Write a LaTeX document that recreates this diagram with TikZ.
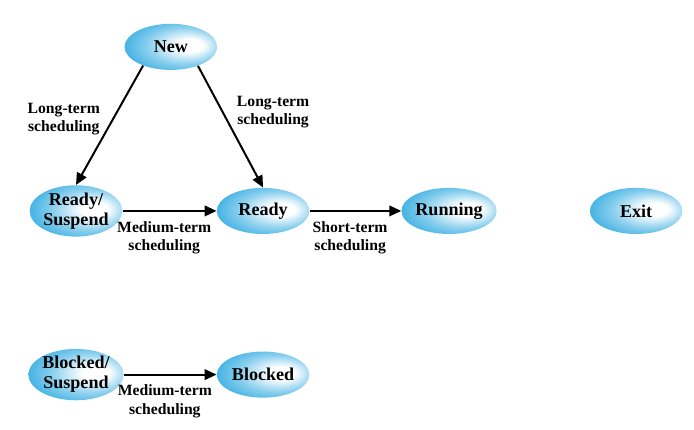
\documentclass[tikz,border=0pt]{standalone}
\usepackage{fontspec}
\setmainfont{Liberation Serif}
\usetikzlibrary{arrows.meta,shapes.geometric}
\definecolor{ellcol}{HTML}{2AA8E0}
\definecolor{arrcol}{HTML}{000000}
% shading of the state ellipses, light spot right of the centre
\pgfdeclareradialshading{stateshade}{\pgfpoint{12bp}{2bp}}{%
  color(0bp)=(white); color(7bp)=(white); color(20bp)=(ellcol!55);
  color(34bp)=(ellcol); color(50bp)=(ellcol)}

\begin{document}
\begin{tikzpicture}[x=1cm,y=1cm,>={Triangle[length=9pt,width=8pt]},
    state/.style={ellipse,shading=stateshade,minimum width=2.45cm,minimum height=1.22cm,
      inner sep=0pt,align=center,font=\fontsize{13.6}{15}\selectfont\bfseries},
    lbl/.style={align=center,inner sep=1pt,font=\fontsize{11.8}{13.8}\selectfont\bfseries},
    trans/.style={->,arrcol,line width=1.5pt}]
  \useasboundingbox (0,0) rectangle (18.36,-11.35);
  % states
  \node[state] (new) at (4.52,-1.24) {New};
  \node[state] (rsusp) at (2.01,-5.58) {Ready/\\Suspend};
  \node[state] (ready) at (6.96,-5.58) {Ready};
  \node[state] (running) at (11.88,-5.58) {Running};
  \node[state] (exit) at (16.83,-5.58) {Exit};
  \node[state] (bsusp) at (2.01,-9.91) {Blocked/\\Suspend};
  \node[state] (blocked) at (6.96,-9.91) {Blocked};
  % transitions
  \draw[trans] (new.214) -- (rsusp.north)
    node[lbl,pos=0.45,left=8pt] {Long-term\\scheduling};
  \draw[trans] (new.-35) -- (ready.north)
    node[lbl,pos=0.38,right=9pt] {Long-term\\scheduling};
  \draw[trans] (rsusp) -- (ready)
    node[lbl,midway,below=6pt,xshift=-4pt] {Medium-term\\scheduling};
  \draw[trans] (ready) -- (running)
    node[lbl,midway,below=6pt,xshift=-4pt] {Short-term\\scheduling};
  \draw[trans] (bsusp) -- (blocked)
    node[lbl,midway,below=6pt,xshift=-4pt] {Medium-term\\scheduling};
\end{tikzpicture}
\end{document}
